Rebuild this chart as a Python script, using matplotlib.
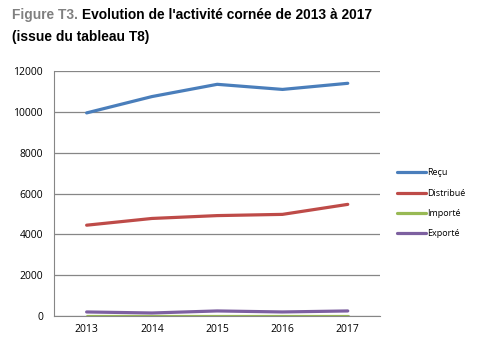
import matplotlib
matplotlib.use("Agg")
import matplotlib.pyplot as plt

# Data
years = ["2013", "2014", "2015", "2016", "2017"]
recu = [9950, 10750, 11350, 11100, 11400]
distribue = [4450, 4780, 4920, 4980, 5470]
importe = [20, 20, 20, 20, 20]
exporte = [200, 150, 250, 200, 250]

series = [
    ("Reçu", recu, "#4A7EBB"),
    ("Distribué", distribue, "#BE4B48"),
    ("Importé", importe, "#98B954"),
    ("Exporté", exporte, "#7D60A0"),
]

plt.rcParams["font.family"] = ["Open Sans", "DejaVu Sans"]

fig = plt.figure(figsize=(4.8, 3.5), dpi=100)
ax = fig.add_axes([0.1125, 0.097, 0.68, 0.70])

x = range(len(years))
for name, vals, col in series:
    ax.plot(x, vals, color=col, lw=2.3, label=name, solid_capstyle="round")

ax.set_xlim(-0.5, 4.5)
ax.set_ylim(0, 12000)
ax.set_yticks(range(0, 12001, 2000))
ax.set_xticks(list(x))
ax.set_xticklabels(years)
ax.grid(axis="y", color="#868686", lw=0.9)
ax.set_axisbelow(True)
for s in ["top", "right"]:
    ax.spines[s].set_visible(False)
for s in ["left", "bottom"]:
    ax.spines[s].set_color("#868686")
ax.tick_params(axis="both", labelsize=7.5, length=0, pad=6)
ax.tick_params(axis="y", pad=8)

ax.legend(loc="center left", bbox_to_anchor=(1.025, 0.46), frameon=False,
          fontsize=6.5, handlelength=3.2, handletextpad=0.15, labelspacing=1.25)

fig.text(0.025, 0.977, "Figure T3.", color="#808080", fontsize=9.9,
         fontweight="bold", family="Liberation Sans", va="top")
fig.text(0.171, 0.977, "Evolution de l'activité cornée de 2013 à 2017",
         color="black", fontsize=9.9, fontweight="bold",
         family="Liberation Sans", va="top")
fig.text(0.025, 0.914, "(issue du tableau T8)", color="black", fontsize=9.9,
         fontweight="bold", family="Liberation Sans", va="top")

fig.savefig("out.png", dpi=100)
